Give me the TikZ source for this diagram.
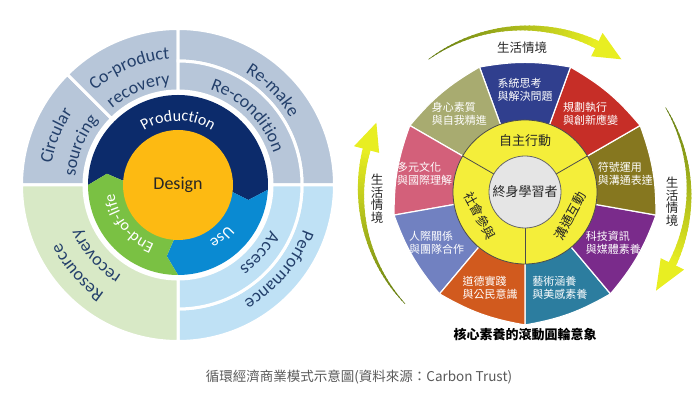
\documentclass[tikz,border=0pt]{standalone}
\usepackage{fontspec}
\setmainfont{Carlito}
\newfontfamily\cjk{Noto Sans CJK TC}
\usetikzlibrary{decorations.text}

\definecolor{topblue}{HTML}{B7C6D9}
\definecolor{lowgreen}{HTML}{D8E9C6}
\definecolor{lowblue}{HTML}{BFE1F5}
\definecolor{prodnavy}{HTML}{0C2B6B}
\definecolor{useblue}{HTML}{0A8AD2}
\definecolor{eolgreen}{HTML}{7AC143}
\definecolor{designgold}{HTML}{FDBA12}
\definecolor{outtext}{HTML}{24406B}
\definecolor{cteal}{HTML}{2C7D9F}
\definecolor{cpurple}{HTML}{7A2B8B}
\definecolor{colive}{HTML}{86771F}
\definecolor{cred}{HTML}{C62E27}
\definecolor{cblue}{HTML}{303F8E}
\definecolor{ckhaki}{HTML}{A8AB70}
\definecolor{cpink}{HTML}{D3607A}
\definecolor{cperi}{HTML}{7181C1}
\definecolor{corange}{HTML}{D15A1E}
\definecolor{ringyellow}{HTML}{F4EE3A}
\definecolor{arrowtail}{HTML}{647C14}
\definecolor{arrowhead}{HTML}{E8EE22}

\newcommand{\outfont}{\color{outtext}\fontsize{18}{18}\selectfont}
\newcommand{\phasefont}{\color{white}\fontsize{16}{16}\selectfont}

% piece of a ring: style, start, end, inner r, outer r
\newcommand{\ringpart}[5]{\path[#1] (#2:#4) arc[start angle=#2,end angle=#3,radius=#4] -- (#3:#5) arc[start angle=#3,end angle=#2,radius=#5] -- cycle;}
% chevron piece of the inner ring: colour, start, end (clockwise)
\newcommand{\phase}[3]{\fill[#1] (#2:90) arc[start angle=#2,end angle=#3,radius=90] -- (#3-9:72) -- (#3:45) -- (0,0) -- (#2:45) -- (#2-9:72) -- cycle;}
% tapered curved arrow: tail angle, neck angle, tip angle
\newcommand{\lifearrow}[3]{%
  \foreach \i in {0,...,39}{%
    \pgfmathsetmacro\angA{#1+(#2-#1)*\i/40}%
    \pgfmathsetmacro\angB{#1+(#2-#1)*(\i+1.4)/40}%
    \pgfmathsetmacro\segw{0.6+7.4*\i/39}%
    \pgfmathtruncatemacro\segc{100*\i/39}%
    \draw[line width=\segw pt, color=arrowhead!\segc!arrowtail] (\angA:164) arc[start angle=\angA, end angle=\angB, radius=164];
  }%
  \fill[arrowhead] (#2:151) -- (#3:164) -- (#2:177) -- cycle;}

\begin{document}
\begin{tikzpicture}[x=1pt, y=1pt,
    part/.style={fill=#1, draw=white, line width=3pt},
    arctxt/.style 2 args={decorate, decoration={text along path, text align=center, text={|#1|#2}}},
    wheeltxt/.style={text=white, align=left, font=\cjk\fontsize{11}{13}\selectfont},
    ringtxt/.style={text=black!85, font=\cjk\fontsize{13}{13}\selectfont},
    lifetxt/.style={text=black!85, align=center, font=\cjk\fontsize{12.5}{12.5}\selectfont}
]
\useasboundingbox (0,0) rectangle (700,411);

% circular business model
\begin{scope}[shift={(178,226)}]
  \coordinate (lc) at (0,0);
  \ringpart{part=topblue}{135}{180}{94}{156.5}
  \ringpart{part=topblue}{90}{135}{94}{156.5}
  \ringpart{part=topblue}{0}{90}{124}{156.5}
  \ringpart{part=topblue}{0}{90}{94}{124}
  \ringpart{part=lowblue}{-90}{0}{124}{156.5}
  \ringpart{part=lowblue}{-90}{0}{94}{124}
  \ringpart{part=lowgreen}{180}{270}{94}{156.5}

  \phase{prodnavy}{180}{-3}
  \phase{useblue}{-3}{-90}
  \phase{eolgreen}{-90}{-180}
  \fill[designgold] (lc) circle[radius=55];
  \node[text=black!85, font=\fontsize{18}{18}\selectfont] (design) at (lc) {Design};

  \path[arctxt={\phasefont}{Production}] (160:64) arc[start angle=160,end angle=20,radius=64];
  \path[arctxt={\phasefont}{Use}] (0:64) arc[start angle=0,end angle=-100,radius=64];
  \path[arctxt={\phasefont}{End-of-life}] (-72:64) arc[start angle=-72,end angle=-212,radius=64];

  \path[arctxt={\outfont}{Circular}] (203:128) arc[start angle=203,end angle=113,radius=128];
  \path[arctxt={\outfont}{sourcing}] (203:103) arc[start angle=203,end angle=113,radius=103];
  \path[arctxt={\outfont}{Co-product}] (157.5:126) arc[start angle=157.5,end angle=67.5,radius=126];
  \path[arctxt={\outfont}{recovery}] (157.5:101) arc[start angle=157.5,end angle=67.5,radius=101];
  \path[arctxt={\outfont}{Re-make}] (95:131) arc[start angle=95,end angle=-5,radius=131];
  \path[arctxt={\outfont}{Re-condition}] (100:101) arc[start angle=100,end angle=-10,radius=101];
  \path[arctxt={\outfont}{Performance}] (15:133) arc[start angle=15,end angle=-95,radius=133];
  \path[arctxt={\outfont}{Access}] (10:103) arc[start angle=10,end angle=-90,radius=103];
  \path[arctxt={\outfont}{Resource}] (276:131) arc[start angle=276,end angle=166,radius=131];
  \path[arctxt={\outfont}{recovery}] (266:107) arc[start angle=266,end angle=176,radius=107];
\end{scope}

% core competencies wheel
\begin{scope}[shift={(525,219)}]
  \coordinate (rc) at (0,0);
  \foreach \k/\col/\txt in {0/cteal/{藝術涵養\\與美感素養}, 1/cpurple/{科技資訊\\與媒體素養},
      2/colive/{符號運用\\與溝通表達}, 3/cred/{規劃執行\\與創新應變}, 4/cblue/{系統思考\\與解決問題},
      5/ckhaki/{身心素質\\與自我精進}, 6/cpink/{多元文化\\與國際理解}, 7/cperi/{人際關係\\與團隊合作},
      8/corange/{道德實踐\\與公民意識}}{
    \pgfmathsetmacro\angA{-90+40*\k}
    \fill[\col, draw=white, line width=1.2pt] (rc) -- (\angA:133) to[bend right=10] (\angA+40:133) -- cycle;
    \node[wheeltxt] (w\k) at (\angA+20:102) {\txt};
  }
  \fill[ringyellow, draw=black!70, line width=0.8pt] (rc) circle[radius=72];
  \foreach \a in {30,150,270}
    \draw[black!70, line width=0.8pt] (\a:36) -- (\a:72);
  \fill[black!10, draw=black!60, line width=0.8pt] (rc) circle[radius=36];
  \node[ringtxt] (core) at (rc) {終身學習者};
  \node[ringtxt] (auto) at (90:51) {自主行動};
  \node[ringtxt, rotate=62] (comm) at (-28:51) {溝通互動};
  \node[ringtxt, rotate=-62] (soc) at (208:51) {社會參與};

  \lifearrow{126}{64}{54}
  \lifearrow{31}{-26}{-37}
  \lifearrow{223}{165}{155}
  \node[lifetxt] (ltop) at (-3,144) {生活情境};
  \node[lifetxt] (lright) at (147,-10) {生\\活\\情\\境};
  \node[lifetxt] (lleft) at (-148,-7) {生\\活\\情\\境};
  \node[font=\cjk\bfseries\fontsize{13}{13}\selectfont] (title) at (0,-143) {核心素養的滾動圓輪意象};
\end{scope}

\node[text=black!65, font=\cjk\fontsize{13.5}{13.5}\selectfont] (caption) at (359,34) {循環經濟商業模式示意圖(資料來源：Carbon Trust)};
\end{tikzpicture}
\end{document}
